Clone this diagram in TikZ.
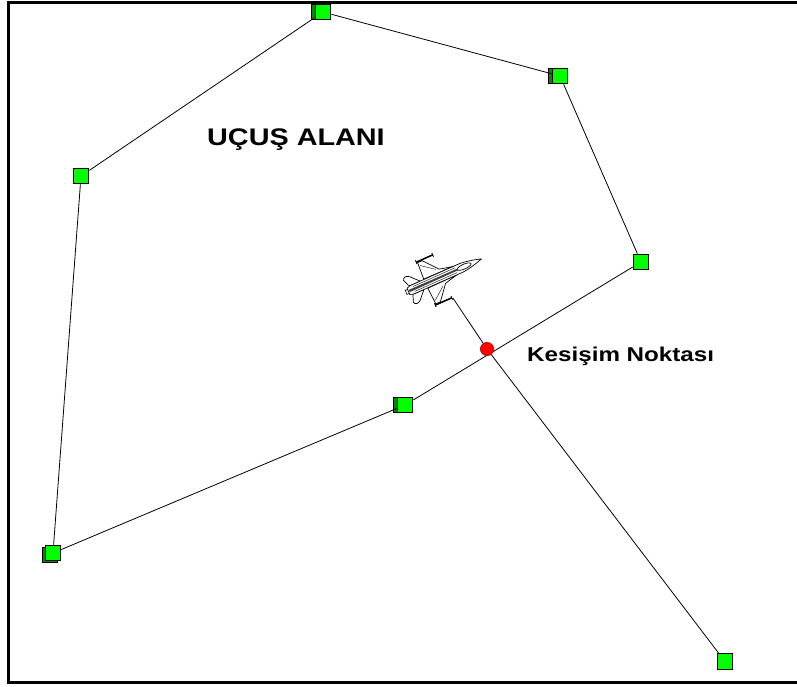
\documentclass[tikz,border=0pt]{standalone}
\usepackage{fontspec}
\setmainfont{Liberation Sans}
\usetikzlibrary{shadows}
\begin{document}
\begin{tikzpicture}[x=1pt,y=-1pt,
  wp/.style={rectangle, draw=black, fill=green, line width=1.2pt,
    minimum width=15.5pt, minimum height=15.5pt, inner sep=0pt},
  wpd/.style={wp, copy shadow={shadow xshift=#1, shadow yshift=0pt, fill=green!55!black}},
  wpd/.default=-4pt,
  route/.style={draw=black, line width=0.8pt},
  hit/.style={circle, fill=red, draw=red!80!black, line width=0.6pt,
    minimum size=13pt, inner sep=0pt},
  lbl/.style={inner sep=0pt, font=\bfseries},
  jetpart/.style={draw=black, line width=0.7pt, fill=white, line join=round}]
\useasboundingbox (0,0) rectangle (797,686);

% frame
\draw[line width=3pt] (797,2.5) -- (8.7,2.5) -- (8.7,682.5) -- (797,682.5);

% polygon corners of the flight area
\node[wpd] (p1) at (323,12) {};
\node[wpd] (p2) at (560,76) {};
\node[wp]  (p3) at (641,262) {};
\node[wpd] (p4) at (405,405) {};
\node[wp, copy shadow={shadow xshift=-3pt, shadow yshift=-2pt, fill=green!55!black}] (p5) at (53,553) {};
\node[wp]  (p6) at (81,176) {};
\node[wp]  (pe) at (725,661.5) {};

\draw[route] (p1) -- (p2) -- (p3) -- (p4) -- (p5) -- (p6) -- (p1);

% aircraft (top view), local axes along the fuselage
\begin{scope}[shift={(434pt,-280pt)}, x=1pt, y=1pt, rotate=24]
  \foreach \s in {1,-1}{
    \begin{scope}[yscale=\s]
      % horizontal stabilizer
      \path[jetpart] (-13,4.5) -- (-21,13) .. controls (-24,15.5) and (-27,15) .. (-28,12) -- (-25,4.5) -- cycle;
      % wing with leading edge extension
      \path[jetpart] (24,4.5) .. controls (16,6) and (12,7) .. (9,8) -- (-3,22.5) -- (-8,22.5) -- (-9,5) -- cycle;
      \draw[line width=0.4pt] (6,9) -- (-7,19);
      % wingtip launch rail
      \draw[line width=1.5pt] (-9,23.5) -- (9,23.5);
      \draw[line width=0.9pt] (-9,21.5) -- (-9,25.5) (9,21.5) -- (9,25.5);
    \end{scope}
  }
  % fuselage
  \path[jetpart] (52,0) .. controls (46,1.8) and (38,4) .. (30,4.6)
    -- (-24,4.6) -- (-28,3.4) -- (-28,-3.4) -- (-24,-4.6) -- (30,-4.6)
    .. controls (38,-4) and (46,-1.8) .. (52,0) -- cycle;
  % canopy
  \path[jetpart] (33,0) ellipse[x radius=7.5, y radius=2.4];
  % dorsal spine and fin
  \fill[black!75] (26,0.9) -- (-27,1.2) -- (-27,-1.2) -- (26,-0.9) -- cycle;
  \draw[line width=0.4pt] (24,2.6) -- (-22,2.6) (24,-2.6) -- (-22,-2.6);
  \draw[line width=0.6pt] (-28,2.2) -- (-30.5,2.2) -- (-30.5,-2.2) -- (-28,-2.2);
  \coordinate (jetlink) at (10,-24.5);
\end{scope}

% intersection point and the track through it
\node[hit] (kx) at (487,349) {};
\draw[route] (jetlink) -- (kx) -- (pe);
\node[hit] at (kx) {};

% labels
\node[lbl, anchor=base west, font=\fontsize{24}{26}\bfseries] (t1) at (207,145) {\scalebox{1.2}[1]{UÇUŞ ALANI}};
\node[lbl, anchor=base west, font=\fontsize{20}{22}\bfseries] (t2) at (527,361.5) {\scalebox{1.21}[1]{Kesişim Noktası}};
\end{tikzpicture}
\end{document}
